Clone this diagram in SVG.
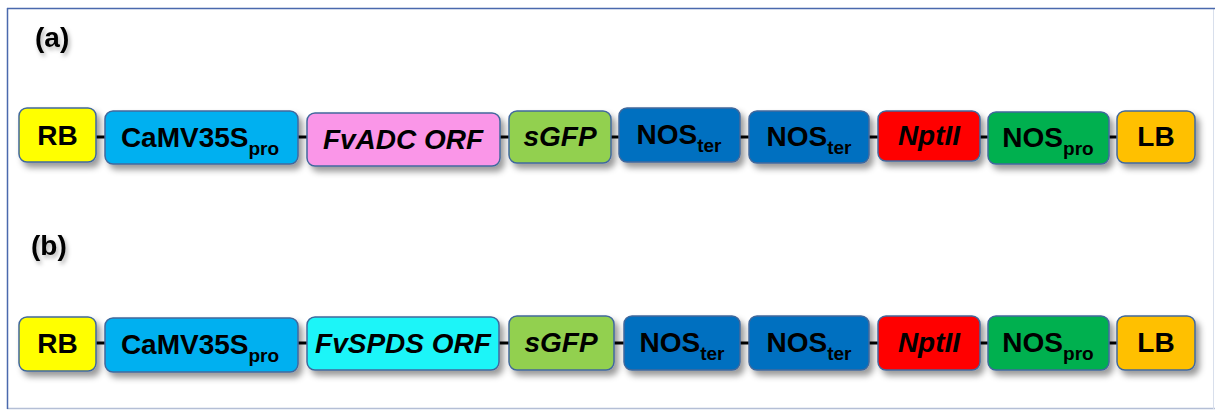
<svg xmlns="http://www.w3.org/2000/svg" width="1215" height="410" viewBox="0 0 1215 410">
<defs>
<filter id="sh" x="-20%" y="-30%" width="150%" height="180%">
<feDropShadow dx="4" dy="5" stdDeviation="3" flood-color="#000" flood-opacity="0.4"/>
</filter>
<filter id="tsh" x="-20%" y="-30%" width="150%" height="180%">
<feDropShadow dx="2" dy="3" stdDeviation="2" flood-color="#000" flood-opacity="0.3"/>
</filter>
</defs>
<style>
.box{stroke:#41689c;stroke-width:1.5}
.t{font-family:"Liberation Sans",Arial,sans-serif;font-weight:bold;font-size:28px;fill:#000;text-anchor:middle}
.i{font-style:italic}
.sub{font-size:19px}
.lbl{font-family:"Liberation Sans",Arial,sans-serif;font-weight:bold;font-size:28px;fill:#000}
.con{stroke:#000;stroke-width:3}
</style>
<rect x="0" y="0" width="1215" height="410" fill="#fff"/>
<g id="frame">
<line x1="7" y1="408.5" x2="1215" y2="408.5" stroke="#b4bfd6" stroke-width="1.5"/>
<line x1="1213.5" y1="8" x2="1213.5" y2="409" stroke="#d8dfec" stroke-width="1"/>
<line x1="7" y1="8.5" x2="1215" y2="8.5" stroke="#4a69ad" stroke-width="1.5"/>
<line x1="7.5" y1="8" x2="7.5" y2="409" stroke="#4a69ad" stroke-width="1.5"/>
</g>
<text class="lbl" x="35" y="47" filter="url(#tsh)">(a)</text>
<text class="lbl" x="31" y="255" filter="url(#tsh)">(b)</text>
<g id="connectors">
<line class="con" x1="96" y1="137" x2="105" y2="137"/>
<line class="con" x1="298" y1="137" x2="307" y2="137"/>
<line class="con" x1="500" y1="137" x2="509" y2="137"/>
<line class="con" x1="611" y1="137" x2="619" y2="137"/>
<line class="con" x1="740" y1="137" x2="749" y2="137"/>
<line class="con" x1="869" y1="137" x2="878" y2="137"/>
<line class="con" x1="980" y1="137" x2="988" y2="137"/>
<line class="con" x1="1109" y1="137" x2="1117" y2="137"/>
<line class="con" x1="96" y1="343" x2="105" y2="343"/>
<line class="con" x1="298" y1="343" x2="307" y2="343"/>
<line class="con" x1="499" y1="343" x2="509" y2="343"/>
<line class="con" x1="614" y1="343" x2="624" y2="343"/>
<line class="con" x1="740" y1="343" x2="749" y2="343"/>
<line class="con" x1="869" y1="343" x2="878" y2="343"/>
<line class="con" x1="980" y1="343" x2="988" y2="343"/>
<line class="con" x1="1109" y1="343" x2="1117" y2="343"/>
</g>
<g id="a-RB"><rect class="box" x="19" y="108" width="77" height="54" rx="8" fill="#FFFF00" filter="url(#sh)"/><text class="t" x="57.5" y="145">RB</text></g>
<g id="a-CaMV"><rect class="box" x="105" y="111" width="193" height="53" rx="8" fill="#00B0F0" filter="url(#sh)"/><text class="t" x="200" y="147">CaMV35S<tspan class="sub" dy="8">pro</tspan></text></g>
<g id="a-FvADC"><rect class="box" x="307" y="113" width="193" height="53" rx="8" fill="#FA96E8" filter="url(#sh)"/><text class="t i" x="403" y="149">FvADC ORF</text></g>
<g id="a-sGFP"><rect class="box" x="509" y="111" width="102" height="52" rx="8" fill="#92D050" filter="url(#sh)"/><text class="t i" x="560" y="146">sGFP</text></g>
<g id="a-NOSter1"><rect class="box" x="619" y="108" width="121" height="54" rx="8" fill="#0070C0" filter="url(#sh)"/><text class="t" x="679" y="144">NOS<tspan class="sub" dy="8">ter</tspan></text></g>
<g id="a-NOSter2"><rect class="box" x="749" y="111" width="120" height="52" rx="8" fill="#0070C0" filter="url(#sh)"/><text class="t" x="809" y="146">NOS<tspan class="sub" dy="8">ter</tspan></text></g>
<g id="a-NptII"><rect class="box" x="878" y="111" width="102" height="50" rx="8" fill="#FF0000" filter="url(#sh)"/><text class="t i" x="929" y="145">NptII</text></g>
<g id="a-NOSpro"><rect class="box" x="988" y="112" width="121" height="52" rx="8" fill="#00B050" filter="url(#sh)"/><text class="t" x="1048" y="147">NOS<tspan class="sub" dy="8">pro</tspan></text></g>
<g id="a-LB"><rect class="box" x="1117" y="111" width="78" height="52" rx="8" fill="#FFC000" filter="url(#sh)"/><text class="t" x="1156" y="146">LB</text></g>
<g id="b-RB"><rect class="box" x="19" y="317" width="77" height="54" rx="8" fill="#FFFF00" filter="url(#sh)"/><text class="t" x="57.5" y="353">RB</text></g>
<g id="b-CaMV"><rect class="box" x="105" y="318" width="193" height="54" rx="8" fill="#00B0F0" filter="url(#sh)"/><text class="t" x="200" y="354">CaMV35S<tspan class="sub" dy="8">pro</tspan></text></g>
<g id="b-FvSPDS"><rect class="box" x="307" y="317" width="192" height="53" rx="8" fill="#1AF5F8" filter="url(#sh)"/><text class="t i" x="403" y="353">FvSPDS ORF</text></g>
<g id="b-sGFP"><rect class="box" x="509" y="316" width="105" height="54" rx="8" fill="#92D050" filter="url(#sh)"/><text class="t i" x="561" y="352">sGFP</text></g>
<g id="b-NOSter1"><rect class="box" x="624" y="316" width="116" height="54" rx="8" fill="#0070C0" filter="url(#sh)"/><text class="t" x="682" y="352">NOS<tspan class="sub" dy="8">ter</tspan></text></g>
<g id="b-NOSter2"><rect class="box" x="749" y="316" width="120" height="54" rx="8" fill="#0070C0" filter="url(#sh)"/><text class="t" x="809" y="352">NOS<tspan class="sub" dy="8">ter</tspan></text></g>
<g id="b-NptII"><rect class="box" x="878" y="316" width="102" height="54" rx="8" fill="#FF0000" filter="url(#sh)"/><text class="t i" x="929" y="352">NptII</text></g>
<g id="b-NOSpro"><rect class="box" x="988" y="316" width="121" height="54" rx="8" fill="#00B050" filter="url(#sh)"/><text class="t" x="1048" y="352">NOS<tspan class="sub" dy="8">pro</tspan></text></g>
<g id="b-LB"><rect class="box" x="1117" y="316" width="78" height="54" rx="8" fill="#FFC000" filter="url(#sh)"/><text class="t" x="1156" y="352">LB</text></g>
</svg>
